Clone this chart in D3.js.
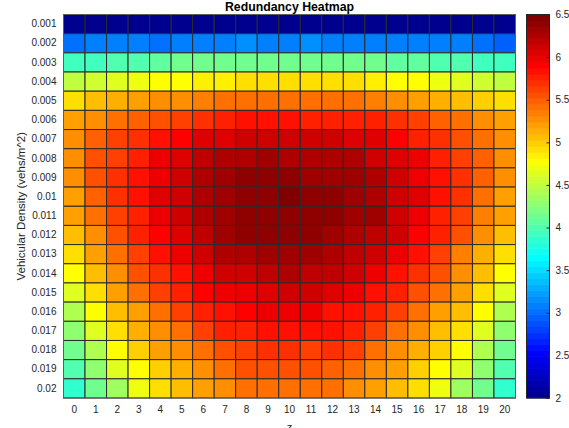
<!DOCTYPE html>
<html>
<head>
<meta charset="utf-8">
<script src="https://cdn.jsdelivr.net/npm/d3@7"></script>
<style>
  html, body { margin: 0; padding: 0; background: #fff; }
  svg { display: block; font-family: "Liberation Sans", Arial, Helvetica, sans-serif; }
</style>
</head>
<body>
<svg id="chart" width="569" height="428"></svg>
<script>
// z values along the horizontal axis
const zValues = d3.range(0, 21);
// vehicular density levels (rows, top to bottom)
const densities = [0.001, 0.002, 0.003, 0.004, 0.005, 0.006, 0.007, 0.008, 0.009, 0.01,
                   0.011, 0.012, 0.013, 0.014, 0.015, 0.016, 0.017, 0.018, 0.019, 0.02];
const densityLabels = ["0.001", "0.002", "0.003", "0.004", "0.005", "0.006", "0.007", "0.008", "0.009", "0.01",
                       "0.011", "0.012", "0.013", "0.014", "0.015", "0.016", "0.017", "0.018", "0.019", "0.02"];
const colorTicks = [2, 2.5, 3, 3.5, 4, 4.5, 5, 5.5, 6, 6.5];
const colorRange = [2, 6.5];

// redundancy per density row, one value per z
const r001 = [2.05, 2.05, 2.05, 2.05, 2.05, 2.05, 2.05, 2.05, 2.05, 2.05, 2.05, 2.05, 2.05, 2.05, 2.05, 2.05, 2.05, 2.05, 2.05, 2.05, 2.05];
const r002 = [2.99, 3.09, 3.06, 3.06, 3.03, 3.12, 3.12, 3.12, 3.13, 3.12, 3.12, 3.13, 3.12, 3.12, 3.12, 3.12, 3.06, 3.06, 3.06, 3.03, 2.96];
const r003 = [3.90, 3.91, 3.97, 4.03, 4.05, 4.11, 4.11, 4.12, 4.12, 4.11, 4.11, 4.12, 4.11, 4.11, 4.11, 4.10, 4.04, 4.03, 3.97, 3.91, 3.90];
const r004 = [4.53, 4.60, 4.67, 4.68, 4.75, 4.81, 4.82, 4.88, 4.90, 4.91, 4.91, 4.91, 4.90, 4.90, 4.82, 4.81, 4.75, 4.68, 4.67, 4.60, 4.53];
const r005 = [4.91, 5.06, 5.13, 5.20, 5.27, 5.30, 5.34, 5.38, 5.41, 5.44, 5.44, 5.41, 5.44, 5.38, 5.37, 5.30, 5.23, 5.16, 5.09, 5.02, 4.91];
const r006 = [5.20, 5.30, 5.38, 5.48, 5.55, 5.62, 5.69, 5.76, 5.80, 5.80, 5.83, 5.76, 5.76, 5.76, 5.73, 5.66, 5.59, 5.48, 5.38, 5.30, 5.20];
const r007 = [5.30, 5.48, 5.59, 5.69, 5.80, 5.87, 6.04, 6.07, 6.11, 6.11, 6.12, 6.11, 6.11, 6.07, 6.04, 5.87, 5.76, 5.66, 5.55, 5.44, 5.30];
const r008 = [5.30, 5.52, 5.62, 5.76, 5.94, 6.04, 6.18, 6.22, 6.25, 6.29, 6.27, 6.25, 6.22, 6.22, 6.14, 6.04, 5.94, 5.76, 5.62, 5.48, 5.30];
const r009 = [5.30, 5.52, 5.66, 5.80, 6.00, 6.11, 6.22, 6.32, 6.36, 6.36, 6.36, 6.32, 6.32, 6.29, 6.22, 6.11, 6.00, 5.80, 5.66, 5.48, 5.27];
const r010 = [5.23, 5.48, 5.66, 5.83, 6.04, 6.14, 6.25, 6.32, 6.36, 6.39, 6.43, 6.36, 6.36, 6.32, 6.25, 6.14, 6.04, 5.83, 5.66, 5.44, 5.23];
const r011 = [5.20, 5.41, 5.59, 5.78, 5.94, 6.11, 6.22, 6.34, 6.39, 6.39, 6.38, 6.36, 6.36, 6.32, 6.29, 6.14, 5.94, 5.76, 5.59, 5.34, 5.20];
const r012 = [5.09, 5.30, 5.52, 5.73, 5.87, 6.04, 6.18, 6.29, 6.36, 6.36, 6.39, 6.36, 6.32, 6.25, 6.18, 6.11, 5.87, 5.73, 5.52, 5.27, 5.06];
const r013 = [4.91, 5.20, 5.38, 5.59, 5.80, 5.94, 6.14, 6.22, 6.25, 6.29, 6.32, 6.32, 6.25, 6.18, 6.11, 5.94, 5.80, 5.59, 5.34, 5.16, 4.91];
const r014 = [4.75, 5.09, 5.30, 5.52, 5.69, 5.80, 5.94, 6.11, 6.14, 6.18, 6.22, 6.18, 6.18, 6.14, 5.94, 5.80, 5.66, 5.52, 5.27, 5.06, 4.75];
const r015 = [4.61, 4.95, 5.20, 5.38, 5.59, 5.73, 5.87, 5.94, 6.00, 6.07, 6.11, 6.11, 6.07, 5.94, 5.83, 5.73, 5.55, 5.38, 5.20, 4.95, 4.61];
const r016 = [4.46, 4.75, 5.06, 5.23, 5.44, 5.59, 5.73, 5.80, 5.87, 5.94, 5.94, 5.94, 5.83, 5.80, 5.73, 5.59, 5.41, 5.23, 5.06, 4.75, 4.46];
const r017 = [4.25, 4.61, 4.91, 5.13, 5.30, 5.44, 5.59, 5.73, 5.76, 5.80, 5.83, 5.80, 5.80, 5.73, 5.59, 5.44, 5.27, 5.09, 4.91, 4.61, 4.25];
const r018 = [4.11, 4.46, 4.75, 4.98, 5.20, 5.30, 5.44, 5.55, 5.62, 5.66, 5.69, 5.62, 5.66, 5.59, 5.44, 5.30, 5.16, 4.98, 4.75, 4.46, 4.11];
const r019 = [3.97, 4.32, 4.61, 4.81, 5.02, 5.16, 5.30, 5.44, 5.52, 5.55, 5.57, 5.55, 5.48, 5.44, 5.30, 5.20, 5.02, 4.81, 4.61, 4.32, 3.97];
const r020 = [3.83, 4.11, 4.39, 4.68, 4.91, 5.09, 5.20, 5.30, 5.38, 5.41, 5.41, 5.41, 5.38, 5.30, 5.20, 5.09, 4.91, 4.68, 4.39, 4.11, 3.83];

const rows = [r001, r002, r003, r004, r005, r006, r007, r008, r009, r010,
              r011, r012, r013, r014, r015, r016, r017, r018, r019, r020];

// 64-step jet colour map
function jetMap(m) {
  const n = Math.ceil(m / 4);
  const u = [];
  for (let i = 1; i <= n; i++) u.push(i / n);
  for (let i = 1; i < n; i++) u.push(1);
  for (let i = n; i >= 1; i--) u.push(i / n);
  const off = Math.ceil(n / 2) - (m % 4 === 1 ? 1 : 0);
  const J = d3.range(m).map(() => [0, 0, 0]);
  u.forEach((v, k) => {
    const g = off + k + 1;
    const r = g + n, b = g - n;
    if (r >= 1 && r <= m) J[r - 1][0] = v;
    if (g >= 1 && g <= m) J[g - 1][1] = v;
    if (b >= 1 && b <= m) J[b - 1][2] = v;
  });
  return J.map(c => d3.rgb(c[0] * 255, c[1] * 255, c[2] * 255).formatHex());
}
const jet = jetMap(64);
const color = d3.scaleQuantize().domain(colorRange).range(jet);

const cells = [];
rows.forEach((vals, i) => vals.forEach((v, j) => cells.push({ d: densities[i], z: zValues[j], v })));

const svg = d3.select("#chart");
const plot = { left: 63.5, right: 515.5, top: 14.5, bottom: 398 };

const x = d3.scaleBand().domain(zValues).range([plot.left, plot.right]);
const y = d3.scaleBand().domain(densities).range([plot.top, plot.bottom]);

// heatmap cells
svg.append("g")
  .selectAll("rect")
  .data(cells)
  .join("rect")
  .attr("x", d => x(d.z))
  .attr("y", d => y(d.d))
  .attr("width", x.bandwidth())
  .attr("height", y.bandwidth())
  .attr("fill", d => color(d.v))
  .attr("stroke", "#2a2a2a")
  .attr("stroke-width", 1);

// plot frame
svg.append("rect")
  .attr("x", plot.left).attr("y", plot.top)
  .attr("width", plot.right - plot.left).attr("height", plot.bottom - plot.top)
  .attr("fill", "none").attr("stroke", "#5e5e5e").attr("stroke-width", 1);

// axes (labels only, no tick marks)
const xAxis = d3.axisBottom(x).tickSize(0).tickPadding(8);
const gx = svg.append("g").attr("transform", `translate(0,${plot.bottom})`).call(xAxis);
gx.select(".domain").remove();
gx.selectAll("text").attr("fill", "#262626").style("font-size", "10px");

const yAxis = d3.axisLeft(y).tickSize(0).tickPadding(7)
  .tickFormat((d, i) => densityLabels[i]);
const gy = svg.append("g").attr("transform", `translate(${plot.left},0)`).call(yAxis);
gy.select(".domain").remove();
gy.selectAll("text").attr("fill", "#262626").style("font-size", "10px");

// title and axis titles
svg.append("text")
  .attr("x", (plot.left + plot.right) / 2).attr("y", 10.5)
  .attr("text-anchor", "middle")
  .style("font-size", "12.3px").style("font-weight", "bold")
  .attr("fill", "#000")
  .text("Redundancy Heatmap");

svg.append("text")
  .attr("transform", `translate(25,${(plot.top + plot.bottom) / 2}) rotate(-90)`)
  .attr("text-anchor", "middle")
  .style("font-size", "11.5px")
  .attr("fill", "#262626")
  .text("Vehicular Density (vehs/m^2)");

svg.append("text")
  .attr("x", (plot.left + plot.right) / 2).attr("y", 431)
  .attr("text-anchor", "middle")
  .style("font-size", "11px")
  .attr("fill", "#262626")
  .text("z");

// colour bar
const cb = { left: 526.5, right: 549.5, top: 14.5, bottom: 398 };
const cy = d3.scaleLinear().domain(colorRange).range([cb.bottom, cb.top]);
const step = (colorRange[1] - colorRange[0]) / jet.length;
svg.append("g")
  .selectAll("rect")
  .data(jet)
  .join("rect")
  .attr("x", cb.left)
  .attr("y", (c, i) => cy(colorRange[0] + (i + 1) * step))
  .attr("width", cb.right - cb.left)
  .attr("height", (c, i) => cy(colorRange[0] + i * step) - cy(colorRange[0] + (i + 1) * step) + 0.5)
  .attr("fill", c => c);

svg.append("rect")
  .attr("x", cb.left).attr("y", cb.top)
  .attr("width", cb.right - cb.left).attr("height", cb.bottom - cb.top)
  .attr("fill", "none").attr("stroke", "#262626").attr("stroke-width", 1);

const cAxis = d3.axisRight(cy).tickValues(colorTicks).tickSize(-3).tickPadding(6)
  .tickFormat(d3.format("~g"));
const gc = svg.append("g").attr("transform", `translate(${cb.right},0)`).call(cAxis);
gc.select(".domain").remove();
gc.selectAll("line").attr("stroke", "#262626");
gc.selectAll("text").attr("fill", "#262626").style("font-size", "10px");
</script>
</body>
</html>
